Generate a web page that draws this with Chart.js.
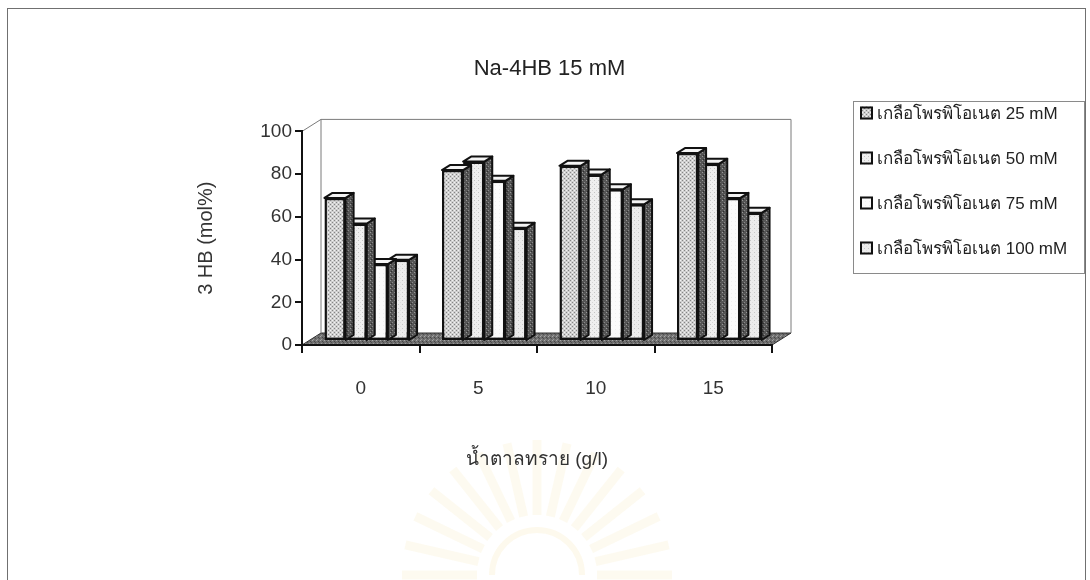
<!DOCTYPE html>
<html>
<head>
<meta charset="UTF-8">
<title>Na-4HB 15 mM</title>
<script src="https://cdn.jsdelivr.net/npm/chart.js@4.4.1/dist/chart.umd.min.js"></script>
<style>
  body { margin: 0; background: #fff; }
  #holder { position: relative; width: 1090px; height: 580px; overflow: hidden; }
  #frame { position: absolute; left: 7px; top: 8px; width: 1077px; height: 640px; border: 1px solid #707070; pointer-events: none; }
</style>
</head>
<body>
<div id="holder">
  <canvas id="chart-area" width="1090" height="580"></canvas>
  <div id="frame"></div>
</div>
<script>
// sugar concentration (g/l) on the x axis
var categories = ['0', '5', '10', '15'];
var seriesLabels = [
  'เกลือโพรพิโอเนต 25 mM',
  'เกลือโพรพิโอเนต 50 mM',
  'เกลือโพรพิโอเนต 75 mM',
  'เกลือโพรพิโอเนต 100 mM'
];
// 3HB content (mol%)
var salt25 = [67, 80, 82, 88];
var salt50 = [55, 84, 78, 83];
var salt75 = [36, 75, 71, 67];
var salt100 = [38, 53, 64, 60];
var yTicks = [0, 20, 40, 60, 80, 100];

var FONT = '"Liberation Sans", Arial, "DejaVu Sans", sans-serif';

// small stipple textures for the printed look
function makePattern(base, dots, size) {
  var c = document.createElement('canvas');
  c.width = size; c.height = size;
  var g = c.getContext('2d');
  g.fillStyle = base;
  g.fillRect(0, 0, size, size);
  dots.forEach(function (d) {
    g.fillStyle = d[2];
    g.fillRect(d[0], d[1], 1, 1);
  });
  return g.createPattern(c, 'repeat');
}

var fill25 = makePattern('#cfcfcf', [[0, 0, '#858585'], [2, 2, '#858585'], [2, 0, '#f2f2f2'], [0, 2, '#f2f2f2']], 4);
var fill50 = makePattern('#efefef', [[0, 0, '#c4c4c4'], [2, 2, '#d6d6d6']], 4);
var fill75 = makePattern('#fbfbfb', [[1, 1, '#f0f0f0']], 4);
var fill100 = makePattern('#ececec', [[0, 0, '#c8c8c8'], [2, 2, '#dedede']], 4);
var sideFill = makePattern('#555', [[0, 0, '#999'], [2, 2, '#888'], [1, 3, '#2e2e2e']], 4);
var floorFill = makePattern('#707070', [[0, 0, '#a8a8a8'], [2, 1, '#444'], [1, 3, '#999'], [3, 2, '#505050']], 4);

// depth of the back wall and of each column
var WALL = { dx: 19, dy: -12 };
var BAR_SHIFT = { dx: 6, dy: -4 };
var BAR_DEPTH = { dx: 8, dy: -5 };

// faint printed emblem behind the axis title
function drawEmblem(ctx, cx, cy) {
  ctx.save();
  ctx.strokeStyle = 'rgba(240, 215, 140, 0.13)';
  ctx.lineWidth = 9;
  for (var k = 0; k <= 14; k++) {
    var ang = Math.PI + k * Math.PI / 14;
    ctx.beginPath();
    ctx.moveTo(cx + Math.cos(ang) * 60, cy + Math.sin(ang) * 60);
    ctx.lineTo(cx + Math.cos(ang) * 135, cy + Math.sin(ang) * 135);
    ctx.stroke();
  }
  ctx.lineWidth = 6;
  ctx.strokeStyle = 'rgba(240, 210, 130, 0.14)';
  ctx.beginPath();
  ctx.arc(cx, cy, 45, Math.PI, 2 * Math.PI);
  ctx.stroke();
  ctx.restore();
}

var plot3d = {
  id: 'plot3d',
  beforeDraw: function (chart) {
    var ctx = chart.ctx, a = chart.chartArea;
    ctx.save();
    ctx.fillStyle = '#fff';
    ctx.fillRect(0, 0, chart.width, chart.height);
    drawEmblem(ctx, (a.left + a.right) / 2, 575);

    // floor
    ctx.beginPath();
    ctx.moveTo(a.left, a.bottom);
    ctx.lineTo(a.right, a.bottom);
    ctx.lineTo(a.right + WALL.dx, a.bottom + WALL.dy);
    ctx.lineTo(a.left + WALL.dx, a.bottom + WALL.dy);
    ctx.closePath();
    ctx.fillStyle = floorFill;
    ctx.fill();
    ctx.strokeStyle = '#333';
    ctx.lineWidth = 1;
    ctx.stroke();

    // back wall outline
    ctx.beginPath();
    ctx.moveTo(a.left, a.top);
    ctx.lineTo(a.left + WALL.dx, a.top + WALL.dy);
    ctx.lineTo(a.right + WALL.dx, a.top + WALL.dy);
    ctx.lineTo(a.right + WALL.dx, a.bottom + WALL.dy);
    ctx.moveTo(a.left + WALL.dx, a.top + WALL.dy);
    ctx.lineTo(a.left + WALL.dx, a.bottom + WALL.dy);
    ctx.strokeStyle = '#7a7a7a';
    ctx.stroke();
    ctx.restore();
  },
  beforeDatasetDraw: function (chart, args) {
    var ctx = chart.ctx;
    ctx.save();
    ctx.translate(BAR_SHIFT.dx, BAR_SHIFT.dy);
    args.meta.data.forEach(function (bar) {
      var p = bar.getProps(['x', 'y', 'base', 'width'], true);
      var l = p.x - p.width / 2, r = p.x + p.width / 2;
      var t = Math.min(p.y, p.base), b = Math.max(p.y, p.base);
      var dx = BAR_DEPTH.dx, dy = BAR_DEPTH.dy;
      ctx.lineWidth = 2;
      ctx.strokeStyle = '#111';
      ctx.lineJoin = 'round';
      // right side
      ctx.beginPath();
      ctx.moveTo(r, t);
      ctx.lineTo(r + dx, t + dy);
      ctx.lineTo(r + dx, b + dy);
      ctx.lineTo(r, b);
      ctx.closePath();
      ctx.fillStyle = sideFill;
      ctx.fill();
      ctx.stroke();
      // top
      ctx.beginPath();
      ctx.moveTo(l, t);
      ctx.lineTo(l + dx, t + dy);
      ctx.lineTo(r + dx, t + dy);
      ctx.lineTo(r, t);
      ctx.closePath();
      ctx.fillStyle = '#f4f4f4';
      ctx.fill();
      ctx.stroke();
    });
  },
  afterDatasetDraw: function (chart) {
    chart.ctx.restore();
  }
};

var legendBox = {
  id: 'legendBox',
  afterDraw: function (chart) {
    var ctx = chart.ctx;
    ctx.save();
    ctx.strokeStyle = '#8a8a8a';
    ctx.lineWidth = 1;
    ctx.strokeRect(853.5, 101.5, 231, 172);
    ctx.font = '17px ' + FONT;
    ctx.textBaseline = 'middle';
    chart.data.datasets.forEach(function (ds, i) {
      var y = 113 + i * 45;
      ctx.fillStyle = ds.backgroundColor;
      ctx.fillRect(860, y - 6.5, 13, 13);
      ctx.strokeStyle = '#111';
      ctx.lineWidth = 2;
      ctx.strokeRect(861, y - 5.5, 11, 11);
      ctx.fillStyle = '#222';
      ctx.fillText(ds.label, 877, y + 1);
    });
    ctx.restore();
  }
};

function dataset(label, values, fill) {
  return {
    label: label,
    data: values,
    backgroundColor: fill,
    borderColor: '#111',
    borderWidth: 2.5,
    borderSkipped: false,
    barPercentage: 1,
    categoryPercentage: 0.72,
    clip: false
  };
}

var config = {
  type: 'bar',
  data: {
    labels: categories,
    datasets: [
      dataset(seriesLabels[0], salt25, fill25),
      dataset(seriesLabels[1], salt50, fill50),
      dataset(seriesLabels[2], salt75, fill75),
      dataset(seriesLabels[3], salt100, fill100)
    ]
  },
  options: {
    responsive: false,
    animation: false,
    layout: { padding: { left: 9, top: 0, right: 0, bottom: 0 } },
    plugins: {
      legend: { display: false },
      tooltip: { enabled: false },
      title: {
        display: true,
        text: 'Na-4HB 15 mM',
        color: '#222',
        font: { family: FONT, size: 22, weight: 'normal' },
        padding: { top: 56, bottom: 49 }
      }
    },
    scales: {
      x: {
        offset: true,
        grid: { offset: true, drawOnChartArea: false, tickLength: 8, color: '#111', lineWidth: 2 },
        border: { color: '#111', width: 2 },
        ticks: { color: '#333', font: { family: FONT, size: 19 }, padding: 24 },
        title: {
          display: true,
          text: 'น้ำตาลทราย (g/l)',
          color: '#333',
          font: { family: FONT, size: 19 },
          padding: { top: 0, bottom: 109 }
        },
        afterFit: function (s) { s.height = 235; }
      },
      y: {
        min: 0,
        max: 100,
        afterBuildTicks: function (s) {
          s.ticks = yTicks.map(function (v) { return { value: v }; });
        },
        grid: { drawOnChartArea: false, tickLength: 7, color: '#111', lineWidth: 2 },
        border: { color: '#111', width: 2 },
        ticks: { color: '#333', font: { family: FONT, size: 19 }, padding: 3 },
        title: {
          display: true,
          text: '3 HB (mol%)',
          color: '#333',
          font: { family: FONT, size: 20 },
          padding: { top: 185, bottom: 0 }
        },
        afterFit: function (s) { s.width = 293; }
      },
      // keeps room on the right for the legend box
      side: {
        position: 'right',
        grid: { display: false },
        ticks: { display: false },
        border: { display: false },
        afterFit: function (s) { s.width = 318; }
      }
    }
  },
  plugins: [plot3d, legendBox]
};

var chart = new Chart(document.getElementById('chart-area').getContext('2d'), config);
</script>
</body>
</html>
